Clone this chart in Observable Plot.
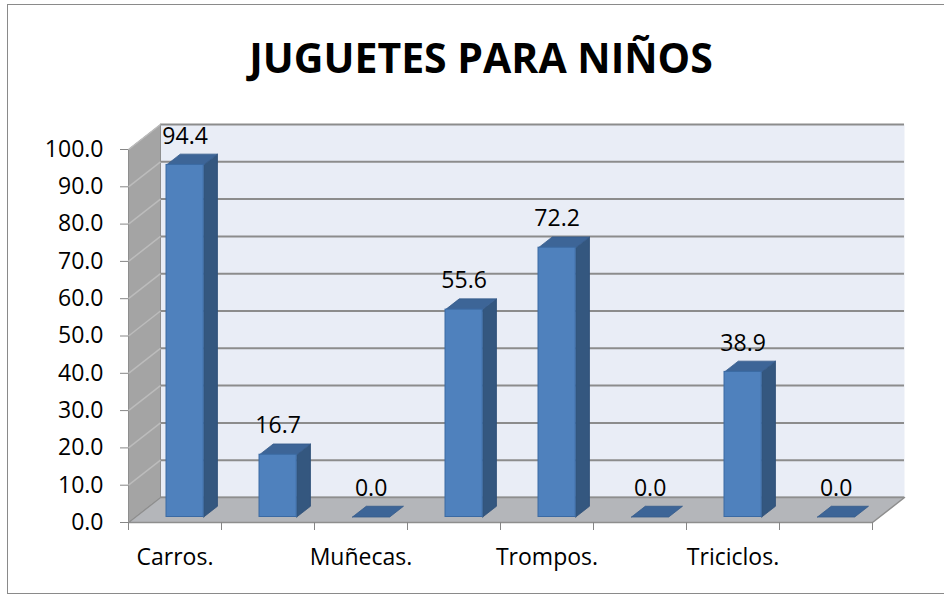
<!DOCTYPE html>
<html><head><meta charset="utf-8">
<script src="https://cdn.jsdelivr.net/npm/d3@7"></script>
<script src="https://cdn.jsdelivr.net/npm/@observablehq/plot@0.6"></script>
<style>
html,body{margin:0;padding:0;background:#fff;}
#wrap{position:relative;width:944px;height:594px;overflow:hidden;}
#border{position:absolute;left:7px;top:4px;width:960px;height:590px;border:1px solid #8a8a8a;box-sizing:border-box;pointer-events:none;}
</style></head><body><div id="wrap"><div id="chart"></div><div id="border"></div></div>
<script>
const title = "JUGUETES PARA NIÑOS";
const categoryLabels = ["Carros.", "", "Muñecas.", "", "Trompos.", "", "Triciclos.", ""];
const values = [94.4, 16.7, 0.0, 55.6, 72.2, 0.0, 38.9, 0.0];
const yTicks = [0, 10, 20, 30, 40, 50, 60, 70, 80, 90, 100];

const W = 944, H = 594, mL = 128, mR = 72, mT = 149, mB = 72;
const N = values.length;
const pxPerX = (W - mL - mR) / N, pxPerY = (H - mT - mB) / 100;
const depthPx = {x: 32, y: 25};
const dX = depthPx.x / pxPerX, dY = depthPx.y / pxPerY;
const F0 = 0.22, F1 = 0.65;   // bar front / back depth fractions
const U0 = 0.333, U1 = 0.733; // bar span within band

const rows = values.map((v, i) => ({i, v, label: categoryLabels[i]}));

const polys = [];
function poly(kind, id, pts) { pts.concat([pts[0]]).forEach(([x, y]) => polys.push({kind, id, x, y})); }
poly("back", "back", [[dX, dY], [N + dX, dY], [N + dX, 100 + dY], [dX, 100 + dY]]);
poly("left", "left", [[0, 0], [dX, dY], [dX, 100 + dY], [0, 100]]);
poly("floor", "floor", [[0, 0], [N, 0], [N + dX, dY], [dX, dY]]);
rows.forEach(({i, v}) => {
  const xl = i + U0, xr = i + U1;
  if (v > 0) poly("side", "s" + i, [[xr + F0 * dX, F0 * dY], [xr + F1 * dX, F1 * dY], [xr + F1 * dX, v + F1 * dY], [xr + F0 * dX, v + F0 * dY]]);
  poly("top", "t" + i, [[xl + F0 * dX, v + F0 * dY], [xr + F0 * dX, v + F0 * dY], [xr + F1 * dX, v + F1 * dY], [xl + F1 * dX, v + F1 * dY]]);
});
const P = k => polys.filter(d => d.kind === k);

const plot = Plot.plot({
  width: W, height: H,
  marginLeft: mL, marginRight: mR, marginTop: mT, marginBottom: mB,
  x: {domain: [0, N], axis: null},
  y: {domain: [0, 100], axis: null},
  style: {fontFamily: "'Open Sans', sans-serif", fontSize: "23px", color: "black", background: "white", overflow: "visible"},
  marks: [
    Plot.line(P("back"), {x: "x", y: "y", z: "id", fill: "#e9edf6", stroke: "none"}),
    Plot.ruleY(yTicks, {y: t => t + dY, x1: dX, x2: N + dX, stroke: "#8c8c8c", strokeWidth: 2}),
    Plot.line(P("left"), {x: "x", y: "y", z: "id", fill: "#a4a4a4", stroke: "#8e8e8e", strokeWidth: 1}),
    Plot.link(yTicks, {x1: 0, y1: t => t, x2: dX, y2: t => t + dY, stroke: "#bcbcbc", strokeWidth: 1.5}),
    Plot.line(P("floor"), {x: "x", y: "y", z: "id", fill: "#b4b6ba", stroke: "#8e8e8e", strokeWidth: 1.5}),
    Plot.line(P("side"), {x: "x", y: "y", z: "id", fill: "#34577f", stroke: "#2e4f77", strokeWidth: 0.8}),
    Plot.line(P("top"), {x: "x", y: "y", z: "id", fill: "#3d6597", stroke: "#355b8a", strokeWidth: 0.8}),
    Plot.rect(rows.filter(d => d.v > 0), {x1: d => d.i + U0 + F0 * dX, x2: d => d.i + U1 + F0 * dX, y1: F0 * dY, y2: d => d.v + F0 * dY, fill: "#4f81bd", stroke: "#3b6aa3", strokeWidth: 1}),
    Plot.text(rows, {x: d => d.i + (U0 + U1) / 2 + F0 * dX, y: d => d.v + F1 * dY, dy: -18, text: d => d.v.toFixed(1), fill: "black"}),
    Plot.axisY(yTicks, {tickSize: 8, tickPadding: 17, tickFormat: d => d.toFixed(1), stroke: "#868686", fill: "black", label: null}),
    Plot.axisX(d3.range(N + 1), {tickSize: 8, tickFormat: () => "", stroke: "#868686", label: null}),
    Plot.text(rows.filter(d => d.label), {x: d => d.i + 0.5, y: 0, dy: 35.5, text: "label", fill: "black"}),
    Plot.text([title], {frameAnchor: "top", dx: -19.5, dy: -106, fontSize: 41, fontWeight: "bold", fill: "black"})
  ]
});
document.getElementById("chart").appendChild(plot);
</script></body></html>
